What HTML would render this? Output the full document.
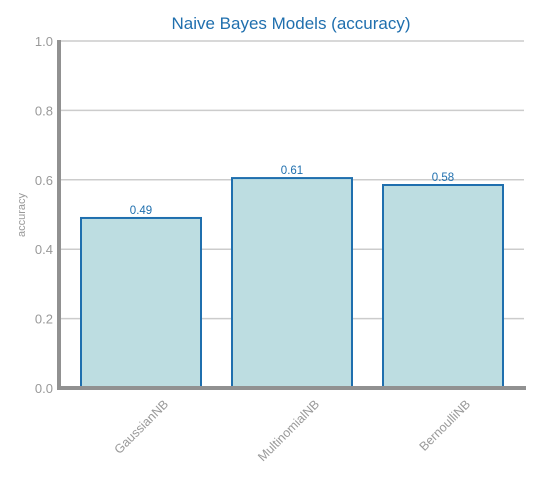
<!DOCTYPE html>
<html><head><meta charset="utf-8">
<style>
body{margin:0;background:#fff;}
svg{font-family:"Liberation Sans","DejaVu Sans",sans-serif;}
</style></head>
<body>
<svg id="chart" width="539" height="483">
<text x="291" y="29" text-anchor="middle" font-size="17" fill="#1f6fae">Naive Bayes Models (accuracy)</text>
<text transform="translate(25,215) rotate(-90)" text-anchor="middle" font-size="11" fill="#999">accuracy</text>
<g id="grid"></g>
<g id="bars"></g>
<g id="axes"></g>
</svg>
<script>
const categories = ["GaussianNB","MultinomialNB","BernoulliNB"];
const values = [0.49, 0.605, 0.585];
const valueLabels = ["0.49","0.61","0.58"];
const yTicks = [0, 0.2, 0.4, 0.6, 0.8, 1.0];
const yTickLabels = ["0.0","0.2","0.4","0.6","0.8","1.0"];

const NS="http://www.w3.org/2000/svg";
const x0=59, x1=524, yTop=41, yBot=388;
const y = v => yBot - v*(yBot-yTop);
const step=151, bw=120, firstCenter=141;
const xc = i => firstCenter + i*step;
function mk(tag, attrs, parent){const e=document.createElementNS(NS,tag);for(const k in attrs)e.setAttribute(k,attrs[k]);parent.appendChild(e);return e;}
const grid=document.getElementById('grid'), bars=document.getElementById('bars'), axes=document.getElementById('axes');

yTicks.forEach((t,i)=>{
  if(t>0){const l=mk('line',{x1:x0,x2:x1,y1:y(t),y2:y(t),stroke:'#cccccc','stroke-width':1.5},grid);
  
  }
  const tx=mk('text',{x:53,y:y(t)+5,'text-anchor':'end','font-size':13,fill:'#999'},axes);
  tx.textContent=yTickLabels[i];
  
  
});

categories.forEach((c,i)=>{
  const r=mk('rect',{x:xc(i)-bw/2,y:y(values[i]),width:bw,height:yBot-y(values[i]),fill:'#bddde1',stroke:'#1f6fae','stroke-width':2},bars);
  
  
  const vl=mk('text',{x:xc(i),y:y(values[i])-4,'text-anchor':'middle','font-size':11.5,fill:'#1f6fae'},bars);
  vl.textContent=valueLabels[i];
  
  
  const cl=mk('text',{x:0,y:0,'text-anchor':'end','font-size':12.5,fill:'#999',transform:`translate(${xc(i)+28},${405}) rotate(-45)`},axes);
  cl.textContent=c;
  
  
});

const ya=mk('line',{x1:x0,x2:x0,y1:yTop-1,y2:yBot+2,stroke:'#919191','stroke-width':4},axes);


const xa=mk('line',{x1:x0-2,x2:x1+2,y1:yBot,y2:yBot,stroke:'#919191','stroke-width':4},axes);


</script>
</body></html>
